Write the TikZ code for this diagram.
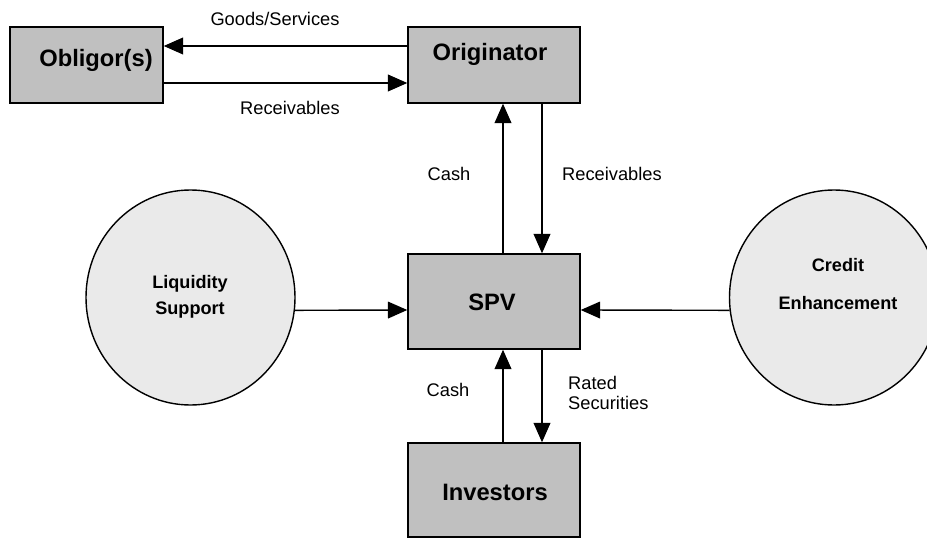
\documentclass[tikz,border=0pt]{standalone}
\usepackage{fontspec}
\setmainfont{Liberation Sans}
\usetikzlibrary{arrows.meta,shapes.geometric}

\definecolor{boxgray}{RGB}{192,192,192}
\definecolor{ballgray}{RGB}{234,234,234}

\tikzset{
  party/.style={draw, line width=0.028cm, fill=boxgray, rectangle, inner sep=0pt},
  facility/.style={draw, line width=0.028cm, fill=ballgray, ellipse, inner sep=0pt,
    minimum width=4.180000cm, minimum height=4.300000cm},
  flow/.style={line width=0.028cm, -{Triangle[length=11pt,width=9.5pt]}},
  bigname/.style={font=\fontsize{13.5}{16}\selectfont\bfseries},
  smallname/.style={font=\fontsize{10.3}{12}\selectfont\bfseries, align=center},
  flowname/.style={font=\fontsize{10.4}{11.5}\selectfont}
}

\begin{document}
\begin{tikzpicture}
            \useasboundingbox (0,0) rectangle (18.540000,10.760000);

            % Drawing boxes
            \node [party, minimum width=3.060000cm, minimum height=1.520000cm] (obl) at (1.730000,9.460000) {};
            \node [party, minimum width=3.440000cm, minimum height=1.520000cm] (orig) at (9.880000,9.460000) {};
            \node [party, minimum width=3.440000cm, minimum height=1.900000cm] (spv) at (9.880000,4.730000) {};
            \node [party, minimum width=3.440000cm, minimum height=1.880000cm] (inv) at (9.880000,0.960000) {};

            % Drawing circles
            \node [facility] (liq) at (3.810000,4.810000) {};
            \node [facility] (cred) at (16.680000,4.810000) {};

            % Marking names
            \node [bigname] (oblname) at (1.920000,9.560000) {Obligor(s)};
            \node [bigname] (origname) at (9.800000,9.680000) {Originator};
            \node [bigname] (spvname) at (9.840000,4.720000) {SPV};
            \node [bigname] (invname) at (9.900000,0.920000) {Investors};
            \node [smallname, font=\fontsize{10.3}{14.7}\selectfont\bfseries] (liqname) at (3.800000,4.820000) {Liquidity\\Support};
            \node [smallname, font=\fontsize{10.3}{21.5}\selectfont\bfseries] (credname) at (16.760000,5.080000) {Credit\\Enhancement};

            % Drawing flows between Obligor(s) and Originator
            \draw [flow] ([yshift=0.380000cm]orig.west) -- ([yshift=0.380000cm]obl.east);
            \draw [flow] ([yshift=-0.360000cm]obl.east) -- ([yshift=-0.360000cm]orig.west);
            \node [flowname] (goods) at (5.500000,10.380000) {Goods/Services};
            \node [flowname] (recv1) at (5.800000,8.600000) {Receivables};

            % Drawing flows between Originator and SPV
            \draw [flow] ([xshift=0.180000cm]spv.north) -- ([xshift=0.180000cm]orig.south);
            \draw [flow] ([xshift=0.960000cm]orig.south) -- ([xshift=0.960000cm]spv.north);
            \node [flowname] (cash1) at (8.980000,7.280000) {Cash};
            \node [flowname] (recv2) at (12.240000,7.280000) {Receivables};

            % Drawing flows between SPV and Investors
            \draw [flow] ([xshift=0.180000cm]inv.north) -- ([xshift=0.180000cm]spv.south);
            \draw [flow] ([xshift=0.960000cm]spv.south) -- ([xshift=0.960000cm]inv.north);
            \node [flowname] (cash2) at (8.960000,2.960000) {Cash};
            \node [flowname, align=left, anchor=west] (rated) at (11.240000,2.900000) {Rated\\Securities};

            % Drawing support flows into SPV
            \draw [flow] (liq.-7) -- ([yshift=-0.170000cm]spv.west);
            \draw [flow] (cred.187) -- ([yshift=-0.170000cm]spv.east);
\end{tikzpicture}
\end{document}
